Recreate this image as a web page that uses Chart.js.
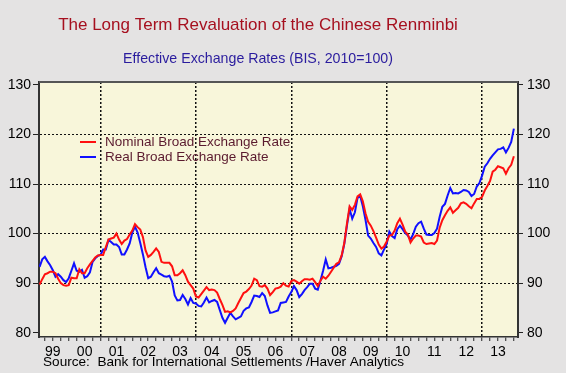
<!DOCTYPE html>
<html lang="en">
<head>
    <meta charset="UTF-8">
    <title>The Long Term Revaluation of the Chinese Renminbi</title>
    <script src="https://cdn.jsdelivr.net/npm/chart.js@4.4.1/dist/chart.umd.min.js"></script>
    <style>
        html, body { margin: 0; padding: 0; background: #e4e3e3; overflow: hidden; }
    </style>
</head>
<body>
<canvas id="myChart" width="566" height="373"></canvas>

<script>
    // monthly data, Jan 1999 .. Dec 2013
    const startYear = 1999;

    const nominalBroad = [
        89.7, 90.8, 91.8, 92.0, 92.3, 92.3, 92.0, 90.9, 90.0, 89.6, 89.5, 89.6,
        91.1, 91.0, 91.0, 92.8, 92.0, 92.0, 93.0, 93.8, 94.5, 95.2, 95.6, 95.7,
        95.7, 97.3, 98.8, 99.0, 99.2, 100.0, 98.8, 97.9, 98.6, 98.9, 99.8, 100.6,
        101.9, 101.3, 100.8, 99.3, 96.6, 95.3, 95.7, 96.3, 97.0, 96.3, 94.3, 94.1,
        94.1, 94.1, 93.4, 91.6, 91.6, 92.0, 92.6, 91.6, 90.3, 89.6, 88.9, 87.3,
        87.1, 87.8, 88.5, 89.2, 88.6, 88.7, 88.6, 88.1, 86.8, 85.6, 84.2, 84.3,
        84.1, 84.4, 84.9, 86.0, 87.0, 88.0, 88.3, 88.8, 89.5, 90.9, 90.6, 89.4,
        89.3, 89.6, 88.9, 87.6, 88.2, 88.9, 89.0, 89.3, 90.0, 89.5, 89.3, 90.4,
        90.6, 90.3, 89.9, 90.4, 90.8, 90.8, 90.7, 90.9, 90.2, 89.4, 90.5, 91.3,
        90.9, 91.5, 92.3, 93.1, 93.9, 94.2, 95.6, 98.1, 102.0, 105.5, 104.8, 105.8,
        107.5, 107.9, 106.5, 104.1, 102.4, 101.6, 100.5, 99.2, 97.8, 97.0, 97.4, 98.4,
        99.6, 99.7, 100.6, 102.1, 103.0, 101.8, 100.4, 99.8, 98.2, 99.0, 99.6, 99.6,
        99.4, 98.2, 97.9, 98.0, 98.1, 97.9, 98.6, 101.2, 102.7, 103.7, 104.6, 105.3,
        104.2, 104.7, 105.2, 106.1, 106.3, 106.0, 105.5, 105.1, 106.1, 107.0, 107.0, 107.4,
        108.7, 109.6, 110.6, 112.5, 112.9, 113.6, 113.4, 113.2, 112.1, 113.2, 113.9, 115.6
    ];

    const realBroad = [
        93.3, 94.8, 95.3, 94.4, 93.6, 92.6, 91.3, 91.8, 91.3, 90.6, 90.2, 91.0,
        92.5, 94.0, 92.5, 92.3, 92.7, 91.1, 91.4, 92.2, 94.3, 95.0, 95.5, 95.7,
        96.8, 96.8, 98.7, 98.3, 97.8, 97.8, 97.3, 95.8, 95.8, 96.8, 98.0, 100.2,
        101.4, 100.2, 98.1, 95.8, 93.2, 91.0, 91.3, 92.2, 93.0, 92.0, 91.7, 91.4,
        91.3, 91.5, 90.3, 87.5, 86.5, 86.6, 87.6, 86.8, 85.7, 87.0, 86.0, 85.9,
        85.4, 85.3, 86.1, 87.1, 86.1, 86.4, 86.6, 86.2, 84.6, 83.0, 82.0, 83.0,
        84.0, 83.3, 82.7, 83.0, 83.3, 84.4, 84.9, 85.1, 86.2, 87.5, 87.4, 87.2,
        88.0, 87.4, 85.5, 84.0, 84.1, 84.3, 84.5, 86.0, 86.1, 86.2, 87.3, 88.2,
        89.4, 88.6, 87.2, 87.8, 88.6, 89.2, 89.9, 89.9, 88.9, 88.7, 90.5, 92.5,
        94.8, 93.0, 93.1, 93.3, 93.5, 93.9, 95.4, 97.9, 101.6, 105.0, 103.0, 104.3,
        107.2, 107.6, 105.5, 102.8, 99.6, 99.0, 98.1, 97.3, 96.0, 95.6, 96.8, 97.9,
        100.4, 99.5, 99.1, 100.9, 101.6, 100.9, 100.1, 99.6, 98.8, 99.9, 101.4, 102.1,
        102.4, 101.0, 99.8, 99.7, 99.7, 100.1, 101.0, 103.4, 105.4, 106.0, 107.7, 109.2,
        108.1, 108.2, 108.1, 108.4, 108.8, 108.7, 108.4, 107.6, 108.0, 109.5, 110.2, 111.7,
        113.5, 114.2, 115.1, 115.8, 116.4, 117.0, 117.1, 117.4, 116.4, 117.3, 118.5, 121.2
    ];

    const seriesNames = ['Nominal Broad Exchange Rate', 'Real Broad Exchange Rate'];
    const yearLabels = ['99', '00', '01', '02', '03', '04', '05', '06', '07', '08', '09', '10', '11', '12', '13'];
    const yTicks = [80, 90, 100, 110, 120, 130];
    const gridYears = [2001, 2004, 2007, 2010, 2013];

    const FONT = "'Liberation Sans', Arial, sans-serif";

    function toPoints(values){
        return values.map(function(v, i){
            return {x: startYear + (i + 1) / 12, y: v};
        });
    }

    // background, frame, titles, legend and source line
    const decorPlugin = {
        id: 'decor',
        beforeDraw: function(chart){
            var ctx = chart.ctx, a = chart.chartArea;
            ctx.save();
            ctx.fillStyle = '#e4e3e3';
            ctx.fillRect(0, 0, chart.width, chart.height);
            ctx.fillStyle = '#f8f6da';
            ctx.fillRect(a.left, a.top, a.right - a.left, a.bottom - a.top);
            ctx.restore();
        },
        afterDraw: function(chart){
            var ctx = chart.ctx, a = chart.chartArea;
            ctx.save();
            ctx.strokeStyle = '#555';
            ctx.lineWidth = 2;
            ctx.beginPath();
            ctx.moveTo(a.left, a.top);
            ctx.lineTo(a.right, a.top);
            ctx.stroke();

            ctx.textBaseline = 'middle';
            ctx.textAlign = 'center';
            ctx.fillStyle = '#a6101f';
            ctx.font = '17px ' + FONT;
            ctx.fillText('The Long Term Revaluation of the Chinese Renminbi', 258, 25);
            ctx.fillStyle = '#2a1c9e';
            ctx.font = '14.2px ' + FONT;
            ctx.fillText('Effective Exchange Rates (BIS, 2010=100)', 258, 59);

            // legend
            var colors = ['#ff1010', '#1010ff'];
            ctx.textAlign = 'left';
            ctx.font = '13.5px ' + FONT;
            for (var k = 0; k < seriesNames.length; k++) {
                var ly = 142 + k * 15;
                ctx.strokeStyle = colors[k];
                ctx.lineWidth = 2;
                ctx.beginPath();
                ctx.moveTo(80, ly);
                ctx.lineTo(96, ly);
                ctx.stroke();
                ctx.fillStyle = '#5a1a2e';
                ctx.fillText(seriesNames[k], 105, ly);
            }

            ctx.fillStyle = '#000';
            ctx.font = '13.6px ' + FONT;
            ctx.fillText('Source:  Bank for International Settlements /Haver Analytics', 43, 362);
            ctx.restore();
        }
    };

    function yGridColor(c){
        var v = c.tick ? c.tick.value : null;
        return (v === 80 || v === 130) ? 'rgba(0,0,0,0)' : '#111';
    }

    const config = {
        type: 'line',
        data: {
            datasets: [
                {label: seriesNames[0], data: toPoints(nominalBroad), borderColor: '#ff1010', borderWidth: 2, pointRadius: 0, tension: 0},
                {label: seriesNames[1], data: toPoints(realBroad), borderColor: '#1010ff', borderWidth: 2, pointRadius: 0, tension: 0}
            ]
        },
        options: {
            responsive: false,
            devicePixelRatio: 1,
            animation: false,
            layout: {padding: {top: 82, left: 0, right: 0, bottom: 0}},
            plugins: {
                legend: {display: false},
                tooltip: {enabled: false},
                title: {display: false}
            },
            scales: {
                x: {
                    type: 'linear',
                    min: 1999.065,
                    max: 2014.13,
                    afterBuildTicks: function(scale){
                        var t = [];
                        for (var q = startYear * 4 + 1; q <= 2014 * 4; q++) t.push({value: q / 4});
                        scale.ticks = t;
                    },
                    afterFit: function(scale){ scale.height = 36; },
                    grid: {
                        color: function(c){
                            var v = c.tick ? c.tick.value : null;
                            return gridYears.indexOf(v) >= 0 ? '#111' : 'rgba(0,0,0,0)';
                        },
                        lineWidth: 1.5,
                        tickColor: '#222',
                        tickLength: 4,
                        tickWidth: 1
                    },
                    border: {color: '#333', width: 1.5, dash: [2, 2]},
                    ticks: {
                        autoSkip: false,
                        maxRotation: 0,
                        padding: 3,
                        color: '#000',
                        font: {family: FONT, size: 14},
                        callback: function(v){
                            var y = Math.floor(v);
                            if (Math.abs(v - y - 0.5) < 1e-6) return yearLabels[y - startYear];
                            return '';
                        }
                    }
                },
                y: {
                    position: 'left',
                    min: 79.13,
                    max: 130.6,
                    afterBuildTicks: function(scale){
                        scale.ticks = yTicks.map(function(v){ return {value: v}; });
                    },
                    afterFit: function(scale){ scale.width = 39; },
                    grid: {color: yGridColor, lineWidth: 1, tickColor: '#222', tickLength: 6},
                    border: {color: '#333', width: 2, dash: [2, 2]},
                    ticks: {padding: 2, color: '#000', font: {family: FONT, size: 14}}
                },
                y2: {
                    position: 'right',
                    min: 79.13,
                    max: 130.6,
                    afterBuildTicks: function(scale){
                        scale.ticks = yTicks.map(function(v){ return {value: v}; });
                    },
                    afterFit: function(scale){ scale.width = 48; },
                    grid: {drawOnChartArea: false, tickColor: '#222', tickLength: 5},
                    border: {color: '#333', width: 2},
                    ticks: {padding: 4, color: '#000', font: {family: FONT, size: 14}}
                }
            }
        },
        plugins: [decorPlugin]
    };

    let myChart = new Chart(document.getElementById('myChart'), config);
</script>
</body>
</html>
